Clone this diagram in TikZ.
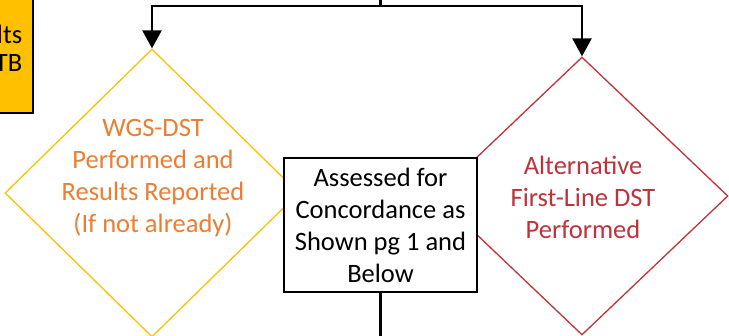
\documentclass[tikz,border=0pt]{standalone}
\usepackage{fontspec}
\setmainfont{Carlito}
\usetikzlibrary{shapes.geometric,arrows.meta}
\definecolor{gold}{RGB}{255,192,0}
\definecolor{accentorange}{RGB}{237,125,49}
\definecolor{darkred}{RGB}{190,50,58}
\tikzset{
  flow/.style={line width=2.5pt,-{Triangle[length=18pt,width=19pt]}},
  decision/.style={diamond,draw,line width=1.3pt,fill=white,inner sep=0pt},
  txt/.style={align=center,font=\fontsize{26.5}{32}\selectfont},
}
\begin{document}
\begin{tikzpicture}[x=1pt,y=-1pt]
\useasboundingbox (0,0) rectangle (729,336);

\node (res) [draw,fill=gold,line width=2pt,minimum width=40pt,minimum height=120pt] at (13,53) {};
\node (restxt) [txt,align=right,anchor=east,inner sep=0pt,font=\fontsize{26.5}{28}\selectfont] at (22.5,48) {lts\\TB};

\node (wgs) [decision,draw=gold,minimum width=294pt,minimum height=288pt] at (152,193) {};
\node (wgstxt) [txt,text=accentorange] at (153,178) {WGS-DST\\Performed and\\Results Reported\\(If not already)};

\node (alt) [decision,draw=darkred,minimum width=292pt,minimum height=278pt] at (582,196) {};
\node (alttxt) [txt,text=darkred] at (583,197) {Alternative\\First-Line DST\\Performed};

\node (conc) [txt,draw,fill=white,line width=1.5pt,minimum width=193pt,minimum height=134pt,inner sep=0pt] at (380.5,225) {Assessed for\\Concordance as\\Shown pg 1 and\\Below};

% connectors
\coordinate (in) at (380.5,-5);
\coordinate (split) at (380.5,6);
\coordinate (out) at (380.5,345);
\draw[line width=2.5pt] (in) -- (split);
\draw[flow] (split) -| (wgs.north);
\draw[flow] (split) -| (alt.north);
\draw[line width=2.5pt] (conc.south) -- (out);

\end{tikzpicture}
\end{document}
